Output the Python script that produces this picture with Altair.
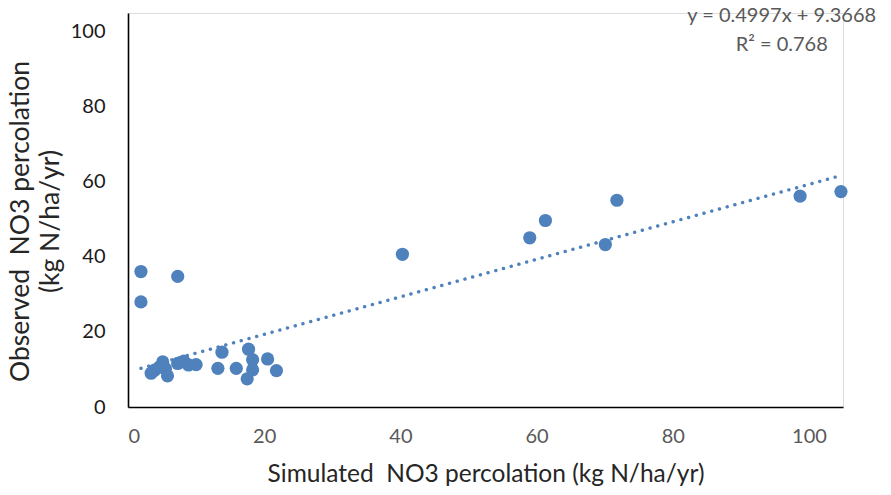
import altair as alt
import pandas as pd

# Simulated vs observed NO3 percolation (kg N/ha/yr)
simulated = [1.9, 1.9, 7.3, 40.3, 59.0, 61.3, 71.8, 70.1, 98.7, 104.7,
             13.8, 13.2, 15.9, 17.7, 18.3, 18.3, 17.5, 20.5, 21.8,
             3.4, 3.9, 4.6, 5.1, 5.8, 5.5, 7.3, 8.2, 8.9, 10.0]
observed = [36.1, 28.0, 34.8, 40.7, 45.1, 49.7, 55.1, 43.3, 56.2, 57.4,
            14.6, 10.3, 10.3, 15.4, 12.6, 9.9, 7.5, 12.8, 9.7,
            9.0, 9.8, 10.6, 12.0, 8.3, 10.2, 11.6, 12.2, 11.2, 11.3]

# Trendline as given in the chart
slope = 0.4997
intercept = 9.3668
r_squared = 0.768
tick_values = [0, 20, 40, 60, 80, 100]

BLUE = "#4F81BD"
FONT = "Lato"
NB = "\u00a0"

pts = pd.DataFrame({"sim": simulated, "obs": observed})
trend = pd.DataFrame({"sim": [min(simulated), max(simulated)]})
trend["obs"] = slope * trend["sim"] + intercept
eq = pd.DataFrame({
    "sim": [96.0, 96.0],
    "obs": [104.3, 96.6],
    "label": [f"y = {slope}x + {intercept}", f"R\u00b2 = {r_squared}"],
})

xscale = alt.Scale(domain=[0, 105], nice=False, zero=False)
yscale = alt.Scale(domain=[0, 105], nice=False, zero=False)

xaxis = alt.Axis(values=tick_values, grid=False, ticks=False, domainColor="#000000",
                 domainWidth=1.6, labelFont=FONT, labelFontSize=20, labelColor="#595959",
                 labelPadding=19, title=f"Simulated {NB}NO3 percolation (kg N/ha/yr)",
                 titleFont=FONT, titleFontSize=24.5, titleFontWeight="normal",
                 titleColor="#262626", titleY=55, titleBaseline="top")
yaxis = alt.Axis(values=tick_values, grid=False, ticks=False, domainColor="#000000",
                 domainWidth=1.6, labelFont=FONT, labelFontSize=20, labelColor="#1a1a1a",
                 labelPadding=23,
                 title=[f"Observed {NB}NO3 percolation", "(kg N/ha/yr)"],
                 titleFont=FONT, titleFontSize=26.5, titleFontWeight="normal",
                 titleColor="#262626", titleX=-94, titleY=208, titleLineHeight=30)

points = alt.Chart(pts).mark_circle(size=175, color=BLUE, opacity=1).encode(
    x=alt.X("sim:Q", scale=xscale, axis=xaxis),
    y=alt.Y("obs:Q", scale=yscale, axis=yaxis),
)

line = alt.Chart(trend).mark_line(color=BLUE, strokeWidth=3.4, strokeDash=[0.1, 7.9],
                                  strokeCap="round").encode(
    x=alt.X("sim:Q", scale=xscale),
    y=alt.Y("obs:Q", scale=yscale),
)

text = alt.Chart(eq).mark_text(font=FONT, fontSize=20, color="#595959", align="center",
                               baseline="middle", clip=False).encode(
    x=alt.X("sim:Q", scale=xscale),
    y=alt.Y("obs:Q", scale=yscale),
    text="label:N",
)

chart = alt.layer(line, points, text).properties(
    width=715, height=394,
    autosize=alt.AutoSizeParams(type="none"),
    padding={"left": 128, "top": 13, "right": 48, "bottom": 88},
).configure_view(stroke=None).configure(background="white")

chart.save("out.html", embed_options={"renderer": "svg", "actions": False})
